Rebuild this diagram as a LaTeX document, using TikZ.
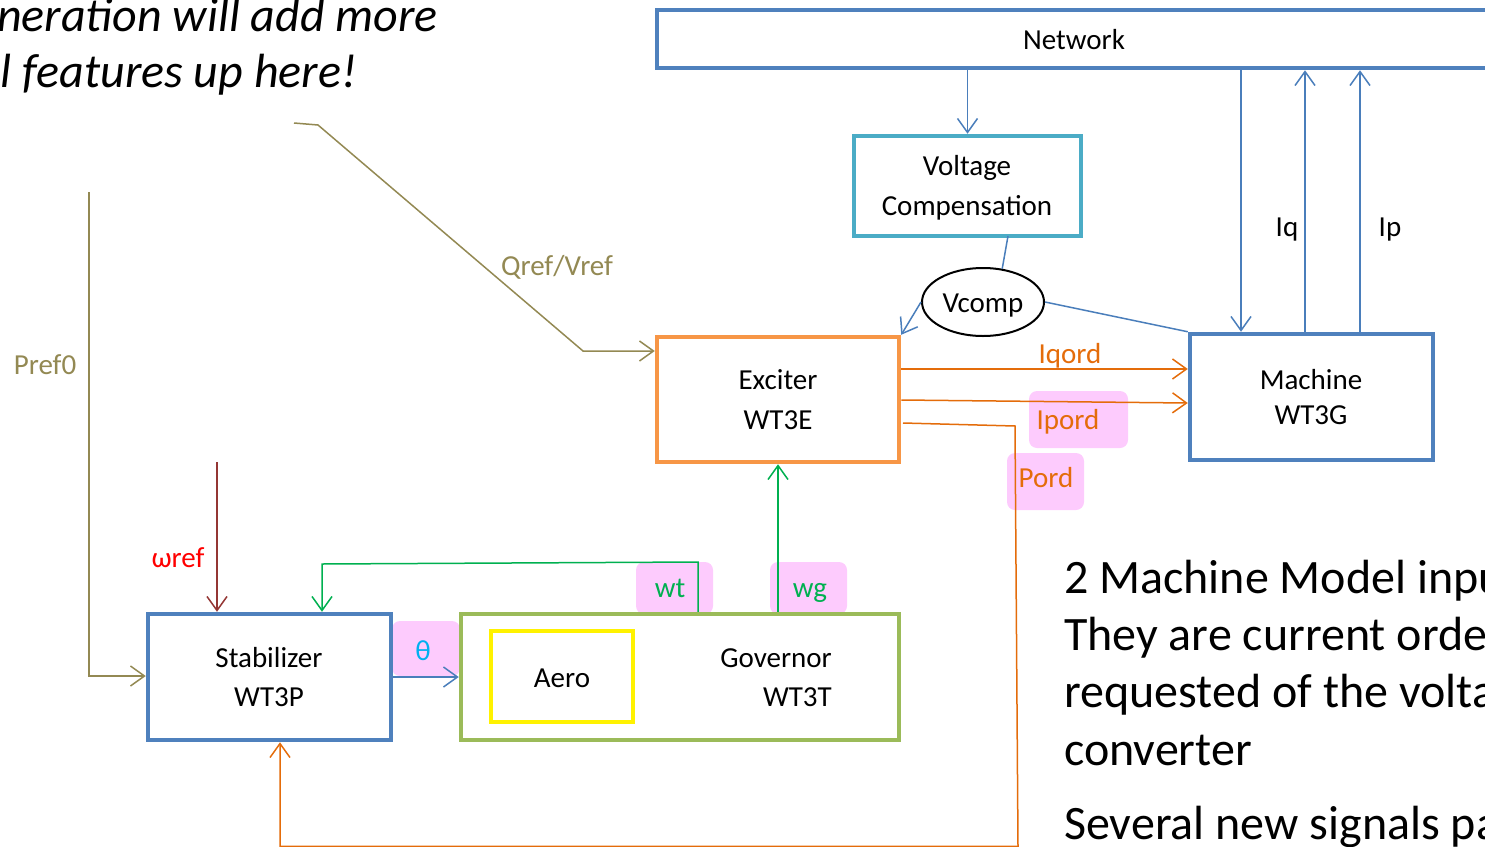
\documentclass[tikz,border=0pt]{standalone}
\usepackage{fontspec}
\setmainfont{Carlito}
\usetikzlibrary{arrows.meta,shapes.geometric}
\definecolor{boxblue}{HTML}{4F81BD}
\definecolor{lineblue}{HTML}{4A7EBB}
\definecolor{boxcyan}{HTML}{4BACC6}
\definecolor{boxorange}{HTML}{F79646}
\definecolor{lineorange}{HTML}{E46C0A}
\definecolor{boxgreen}{HTML}{9BBB59}
\definecolor{linegreen}{HTML}{00B050}
\definecolor{olive}{HTML}{938953}
\definecolor{darkred}{HTML}{943634}
\definecolor{pinkbg}{HTML}{FDCBFD}
\definecolor{thetacyan}{HTML}{00B0F0}
\begin{document}
\begin{tikzpicture}[x=1pt,y=-1pt,
  blk/.style={draw, line width=4.5pt, inner sep=0pt},
  txt/.style={inner sep=0pt, anchor=base, font=\fontsize{29}{34}\selectfont},
  bigtxt/.style={inner sep=0pt, anchor=base west, font=\fontsize{48}{57}\selectfont},
  notetxt/.style={inner sep=0pt, anchor=base east, font=\fontsize{48}{56}\selectfont\itshape},
  pinkpad/.style={fill=pinkbg, rounded corners=8pt, inner sep=0pt},
  wire/.style={line width=1.5pt},
  conn/.style={line width=1.5pt, -{Straight Barb[length=14pt,width=20pt,line width=1.5pt]}}]
\useasboundingbox (0,0) rectangle (1485,846);
\clip (0,0) rectangle (1485,846);

% highlight pads behind the signal names
\node[pinkpad, minimum width=68, minimum height=55] (padth) at (426,648.5) {};
\node[pinkpad, minimum width=99, minimum height=57] (padip) at (1078.5,419.5) {};
\node[pinkpad, minimum width=77, minimum height=57] (padpo) at (1045.5,481.5) {};
\node[pinkpad, minimum width=77, minimum height=52] (padwt) at (674.5,588) {};
\node[pinkpad, minimum width=77, minimum height=52] (padwg) at (808.5,588) {};

% blocks
\node[blk, draw=boxblue, minimum width=834, minimum height=58] (net) at (1074,39) {};
\node[blk, draw=boxcyan, minimum width=227, minimum height=100] (vc) at (967.5,186) {};
\node[draw, ellipse, line width=2pt, minimum width=122, minimum height=68, inner sep=0pt] (vcomp) at (983,302) {};
\node[blk, draw=boxorange, minimum width=242, minimum height=125] (exc) at (778,399.5) {};
\node[blk, draw=boxblue, minimum width=243, minimum height=126] (mach) at (1311.5,397) {};
\node[blk, draw=boxblue, minimum width=243, minimum height=126] (stab) at (269.5,677) {};
\node[blk, draw=boxgreen, minimum width=438, minimum height=126] (gov) at (680,677) {};
\node[blk, draw=yellow, minimum width=142, minimum height=91] (aero) at (562,676.5) {};

% block captions
\node[txt] (netA) at (1074,49) {Network};
\node[txt] (vcA) at (967,175) {Voltage};
\node[txt] (vcB) at (967,215) {Compensation};
\node[txt] (vcompA) at (983,312) {Vcomp};
\node[txt] (excA) at (778,389) {Exciter};
\node[txt] (excB) at (778,429) {WT3E};
\node[txt] (machA) at (1311,389) {Machine};
\node[txt] (machB) at (1311,424) {WT3G};
\node[txt] (stabA) at (269,667) {Stabilizer};
\node[txt] (stabB) at (269,706) {WT3P};
\node[txt, anchor=base east] (govA) at (832,667) {Governor};
\node[txt, anchor=base east] (govB) at (832,706) {WT3T};
\node[txt] (aeroA) at (562,687) {Aero};

% helper coordinates for the connector positions
\coordinate (xnm) at (1241,0);
\coordinate (xiq) at (1305,0);
\coordinate (xip) at (1360,0);
\coordinate (xwr) at (217,0);
\coordinate (xwt) at (698,0);
\coordinate (xws) at (322,0);
\coordinate (yiq) at (0,369);
\coordinate (yipa) at (0,400);
\coordinate (yipb) at (0,403);
\coordinate (yqr) at (0,351);
\coordinate (ypf) at (0,676);
\coordinate (vcout) at (1008,236);
\coordinate (wrtop) at (217,462);
\coordinate (wtbend) at (698,562);
\coordinate (wsbend) at (322,564);
\coordinate (pdA) at (903,423);
\coordinate (pdB) at (1015,426);
\coordinate (pdC) at (1018,846.4);
\coordinate (pdD) at (280,846.4);
\coordinate (qrA) at (294,123);
\coordinate (qrB) at (318,125);
\coordinate (qrC) at (583,351);
\coordinate (pfA) at (89,192);
\coordinate (pfB) at (89,676);

% network side (blue)
\draw[conn, lineblue] (vc.north |- net.south) -- (vc.north);
\draw[wire, lineblue] (vcout) -- (vcomp.60);
\draw[conn, lineblue] (vcomp.west) -- (exc.north east);
\draw[wire, lineblue] (vcomp.east) -- (mach.north west);
\draw[conn, lineblue] (xnm |- net.south) -- (xnm |- mach.north);
\draw[conn, lineblue] (xiq |- mach.north) -- (xiq |- net.south);
\draw[conn, lineblue] (xip |- mach.north) -- (xip |- net.south);
\node[txt] (iq) at (1287,236) {Iq};
\node[txt] (ip) at (1390,236) {Ip};

% current and power orders (orange)
\draw[conn, lineorange] (exc.east |- yiq) -- (mach.west |- yiq);
\draw[conn, lineorange] (exc.east |- yipa) -- (mach.west |- yipb);
\draw[conn, lineorange] (pdA) -- (pdB) -- (pdC) -- (pdD) -- (pdD |- stab.south);
\node[txt, text=lineorange] (iqord) at (1070,363) {Iqord};
\node[txt, text=lineorange] (ipord) at (1068,429) {Ipord};
\node[txt, text=lineorange] (pord) at (1046,487) {Pord};

% references (olive / red)
\draw[conn, olive] (qrA) -- (qrB) -- (qrC) -- (exc.west |- yqr);
\node[txt, text=olive] (qref) at (557,275) {Qref/Vref};
\draw[conn, olive] (pfA) -- (pfB) -- (stab.west |- ypf);
\node[txt, text=olive] (pref) at (45,374) {Pref0};
\draw[conn, darkred] (wrtop) -- (xwr |- stab.north);
\node[txt, text=red] (wref) at (178,567) {ωref};

% speeds (green)
\draw[conn, linegreen] (xwt |- gov.north) -- (wtbend) -- (wsbend) -- (xws |- stab.north);
\draw[conn, linegreen] (exc.south |- gov.north) -- (exc.south);
\node[txt, text=linegreen] (wt) at (670,597) {wt};
\node[txt, text=linegreen] (wg) at (810,597) {wg};

% pitch angle
\draw[conn, lineblue] (stab.east) -- (gov.west);
\node[txt, text=thetacyan] (th) at (423,660) {θ};

% notes
\node[notetxt] (noteA) at (438,31) {generation will add more};
\node[notetxt] (noteB) at (357,87) {control features up here!};
\node[bigtxt] (tA) at (1064,593) {2 Machine Model inputs};
\node[bigtxt] (tB) at (1064,650) {They are current orders};
\node[bigtxt] (tC) at (1064,707) {requested of the voltage};
\node[bigtxt] (tD) at (1064,765) {converter};
\node[bigtxt] (tE) at (1064,839) {Several new signals pass};
\end{tikzpicture}
\end{document}
